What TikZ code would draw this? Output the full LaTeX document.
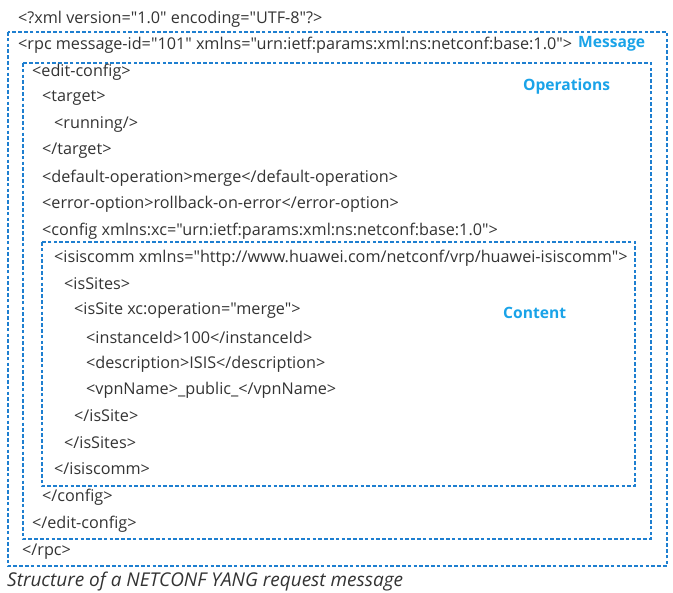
\documentclass[tikz,border=0pt]{standalone}
\usepackage{fontspec}
\setmainfont{Open Sans}[Ligatures=TeXOff]
\usepackage{xcolor}
\usetikzlibrary{positioning}

\definecolor{boxblue}{HTML}{1E7FD0}
\definecolor{labelblue}{HTML}{1AA3E8}
\definecolor{codegray}{HTML}{333333}

\tikzset{
  xmlline/.style={anchor=west, inner sep=0pt, font=\fontsize{16.2}{18}\selectfont, text=codegray},
  partlabel/.style={anchor=west, inner sep=0pt, font=\fontsize{15.6}{18}\selectfont\bfseries, text=labelblue},
  boxline/.style={draw=boxblue, line width=1.7pt, dash pattern=on 3.6pt off 2.2pt}
}

\begin{document}
\begin{tikzpicture}[x=1pt, y=-1pt]
\useasboundingbox (0,0) rectangle (673,593);

% Dashed frames: message, operations, content
\draw[boxline] (8,32) rectangle (667,566);
\draw[boxline] (23,63) rectangle (651,539);
\draw[boxline] (42,242) rectangle (635,486);

% Frame labels
\node[partlabel] (msglabel) at (578,44) {Message};
\node[partlabel] (oplabel) at (523,86) {Operations};
\node[partlabel] (contlabel) at (503,313) {Content};

% XML request
\node[xmlline] (decl) at (18,19) {<?xml version="1.0" encoding="UTF-8"?>};
\node[xmlline] (rpc) at (18,45) {<rpc message-id="101" xmlns="urn:ietf:params:xml:ns:netconf:base:1.0">};
\node[xmlline] (edit) at (32,72) {<edit-config>};
\node[xmlline] (target) at (42,98) {<target>};
\node[xmlline] (running) at (54,125) {<running/>};
\node[xmlline] (targetend) at (42,151) {</target>};
\node[xmlline] (defop) at (42,178) {<default-operation>merge</default-operation>};
\node[xmlline] (erropt) at (42,204) {<error-option>rollback-on-error</error-option>};
\node[xmlline] (config) at (42,231) {<config xmlns:xc="urn:ietf:params:xml:ns:netconf:base:1.0">};
\node[xmlline] (isis) at (54,258) {<isiscomm xmlns="http://www.huawei.com/netconf/vrp/huawei-isiscomm">};
\node[xmlline] (sites) at (64,284) {<isSites>};
\node[xmlline] (site) at (74,311) {<isSite xc:operation="merge">};
\node[xmlline] (inst) at (86,337) {<instanceId>100</instanceId>};
\node[xmlline] (descr) at (86,364) {<description>ISIS</description>};
\node[xmlline] (vpn) at (86,390) {<vpnName>\_public\_</vpnName>};
\node[xmlline] (siteend) at (74,416) {</isSite>};
\node[xmlline] (sitesend) at (64,443) {</isSites>};
\node[xmlline] (isisend) at (54,469) {</isiscomm>};
\node[xmlline] (configend) at (42,497) {</config>};
\node[xmlline] (editend) at (32,524) {</edit-config>};
\node[xmlline] (rpcend) at (22,552) {</rpc>};

% Caption
\node[xmlline, font=\fontsize{19}{22}\selectfont\itshape, text=codegray] (caption) at (7,582) {Structure of a NETCONF YANG request message};

\end{tikzpicture}
\end{document}
